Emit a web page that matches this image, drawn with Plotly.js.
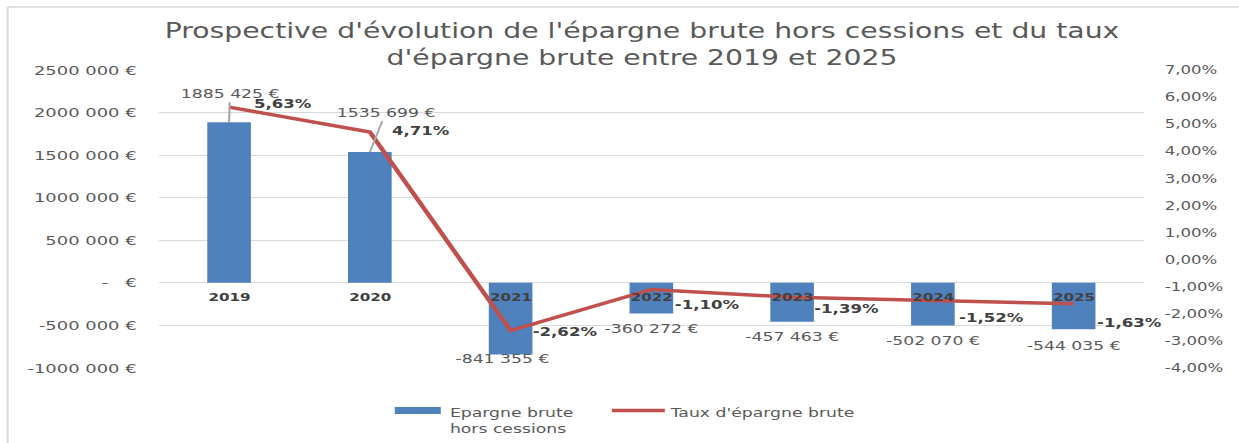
<!DOCTYPE html>
<html>
<head>
<meta charset="utf-8">
<script src="https://cdn.plot.ly/plotly-3.0.1.min.js"></script>
<style>
html,body{margin:0;padding:0;background:#fff;overflow:hidden;}
#chart{position:absolute;left:0;top:0;transform-origin:0 0;}
</style>
</head>
<body>
<div id="chart"></div>
<script>
// ---- data ----
const years = ["2019", "2020", "2021", "2022", "2023", "2024", "2025"];
const epargneBrute = [1885425, 1535699, -841355, -360272, -457463, -502070, -544035];
const epargneLabels = ["1885 425 €", "1535 699 €", "-841 355 €", "-360 272 €", "-457 463 €", "-502 070 €", "-544 035 €"];
const tauxEpargne = [5.63, 4.71, -2.62, -1.10, -1.39, -1.52, -1.63];
const tauxLabels = ["5,63%", "4,71%", "-2,62%", "-1,10%", "-1,39%", "-1,52%", "-1,63%"];
const leftTickVals = [2500000, 2000000, 1500000, 1000000, 500000, 0, -500000, -1000000];
const leftTickText = ["2500 000 €", "2000 000 €", "1500 000 €", "1000 000 €", "500 000 €", "-\u00A0\u00A0\u00A0€", "-500 000 €", "-1000 000 €"];
const rightTickVals = [7, 6, 5, 4, 3, 2, 1, 0, -1, -2, -3, -4];
const rightTickText = ["7,00%", "6,00%", "5,00%", "4,00%", "3,00%", "2,00%", "1,00%", "0,00%", "-1,00%", "-2,00%", "-3,00%", "-4,00%"];
const seriesBarName = "Epargne brute<br>hors cessions";
const seriesLineName = "Taux d'épargne brute";
const titleText = "Prospective d'évolution de l'épargne brute hors cessions et du taux<br>d'épargne brute entre 2019 et 2025";

// ---- label placement (styling, in reference pixels) ----
const S = 1.38; // horizontal stretch of the reference picture
const pctDx = [22, 20, 19, 21, 20, 24, 21];
const pctDy = [3, 1, -1, -16, -12, -17, -19];
const valDx = [1, 16, -8, 0, 0, 0, 0];
const valDy = [-29, -40, 4.5, 15, 15, 15, 16];

const W = 1239 / S;
const el = document.getElementById('chart');
el.style.width = W + 'px';
el.style.height = '443px';
el.style.transform = 'scaleX(' + S + ')';

const FONT = 'DejaVu Sans, Verdana, sans-serif';
const GREY = '#595959';
const DARK = '#404040';
const BLUE = '#4F81BD';
const RED = '#C0504D';

const plotL = 159 / S, plotR = 1144 / S;
const plotW = plotR - plotL;
const PT = 70, PB = 368, PH = PB - PT;
const px = xr => (xr / S - plotL) / plotW;   // reference x -> paper
const py = yr => (PB - yr) / PH;             // reference y -> paper

const traces = [
  {
    type: 'bar', x: years, y: epargneBrute, name: seriesBarName,
    marker: {color: BLUE}, yaxis: 'y', hoverinfo: 'skip', showlegend: false
  },
  {
    type: 'scatter', mode: 'lines', x: years, y: tauxEpargne, name: seriesLineName,
    line: {color: RED, width: 3.5}, yaxis: 'y2', hoverinfo: 'skip', showlegend: false
  }
];

const annotations = [];
years.forEach((yr, i) => {
  // category labels on the zero line (x as category index)
  annotations.push({
    x: i, y: 0, xref: 'x', yref: 'y', text: '<b>' + yr + '</b>', showarrow: false,
    yshift: -15, font: {family: FONT, size: 11, color: DARK}
  });
  // bar value labels
  if (epargneBrute[i] >= 0) {
    annotations.push({
      x: i, y: epargneBrute[i], xref: 'x', yref: 'y', text: epargneLabels[i],
      showarrow: true, arrowhead: 0, arrowwidth: 1.5, arrowcolor: '#A6A6A6',
      ax: valDx[i] / S, ay: valDy[i], standoff: 0,
      font: {family: FONT, size: 12.5, color: GREY}
    });
  } else {
    annotations.push({
      x: i, y: epargneBrute[i], xref: 'x', yref: 'y', text: epargneLabels[i],
      showarrow: false, xshift: valDx[i] / S, yshift: -valDy[i],
      font: {family: FONT, size: 12.5, color: GREY}
    });
  }
  // rate labels
  annotations.push({
    x: i, y: tauxEpargne[i], xref: 'x', yref: 'y2', text: '<b>' + tauxLabels[i] + '</b>',
    showarrow: false, xanchor: 'left', xshift: pctDx[i] / S, yshift: pctDy[i],
    font: {family: FONT, size: 12, color: DARK}
  });
});

// legend texts (custom legend)
annotations.push({
  x: px(447), y: py(403), xref: 'paper', yref: 'paper', xanchor: 'left', yanchor: 'top',
  align: 'left', text: seriesBarName, showarrow: false,
  font: {family: FONT, size: 12.5, color: GREY}
});
annotations.push({
  x: px(667), y: py(403), xref: 'paper', yref: 'paper', xanchor: 'left', yanchor: 'top',
  align: 'left', text: seriesLineName, showarrow: false,
  font: {family: FONT, size: 12.5, color: GREY}
});

const layout = {
  width: W, height: 443,
  margin: {l: plotL, r: W - plotR, t: PT, b: 443 - PB, pad: 0},
  paper_bgcolor: '#fff', plot_bgcolor: '#fff',
  font: {family: FONT, color: GREY},
  title: {
    text: titleText, x: 642 / 1239, xref: 'container', xanchor: 'center',
    y: 1 - 38 / 443, yref: 'container', yanchor: 'top',
    font: {family: FONT, size: 20.5, color: GREY}
  },
  bargap: 0.69,
  showlegend: false,
  xaxis: {
    type: 'category', range: [-0.5, 6.5], showticklabels: false, showgrid: false,
    zeroline: false, showline: false, ticks: '', fixedrange: true
  },
  yaxis: {
    range: [-1000000, 2500000], tickvals: leftTickVals, ticktext: leftTickText,
    showgrid: true, gridcolor: '#D9D9D9', gridwidth: 1, zeroline: true,
    zerolinecolor: '#D9D9D9', zerolinewidth: 1, showline: false, ticks: '',
    ticklabelstandoff: 15, tickfont: {family: FONT, size: 13, color: GREY}, fixedrange: true
  },
  yaxis2: {
    overlaying: 'y', side: 'right', range: [-4, 7],
    tickvals: rightTickVals, ticktext: rightTickText,
    showgrid: false, zeroline: false, showline: false, ticks: '',
    ticklabelstandoff: 14, tickfont: {family: FONT, size: 12, color: GREY}, fixedrange: true
  },
  annotations: annotations,
  shapes: [
    // chart frame
    {type: 'line', xref: 'paper', yref: 'paper',
     x0: px(8), x1: px(1260), y0: py(7), y1: py(7),
     line: {color: '#D9D9D9', width: 1.5}},
    {type: 'line', xref: 'paper', yref: 'paper',
     x0: px(8), x1: px(8), y0: py(7), y1: py(445),
     line: {color: '#D9D9D9', width: 1.5}},
    // legend swatches
    {type: 'rect', xref: 'paper', yref: 'paper',
     x0: px(395), x1: px(441), y0: py(407), y1: py(414),
     fillcolor: BLUE, line: {width: 0}},
    {type: 'line', xref: 'paper', yref: 'paper',
     x0: px(612), x1: px(665), y0: py(410.5), y1: py(410.5),
     line: {color: RED, width: 3.5}}
  ]
};

Plotly.newPlot(el, traces, layout, {staticPlot: true, displayModeBar: false, responsive: false});
</script>
</body>
</html>
